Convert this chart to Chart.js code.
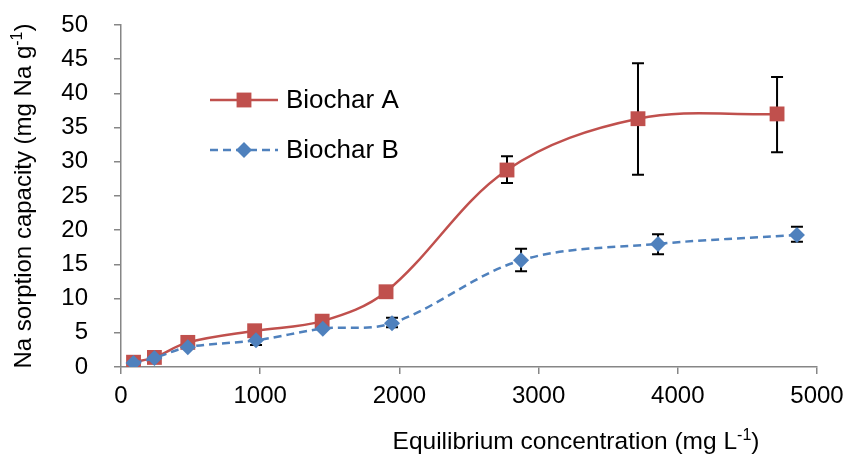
<!DOCTYPE html>
<html>
<head>
<meta charset="utf-8">
<script src="https://cdn.jsdelivr.net/npm/chart.js@4.4.0/dist/chart.umd.min.js"></script>
<style>
  html, body { margin: 0; padding: 0; background: #fff; }
  #wrap { width: 848px; height: 454px; }
</style>
</head>
<body>
<div id="wrap"><canvas id="chart"></canvas></div>
<script>
// Biochar A
var aX = [90, 240, 480, 960, 1445, 1904, 2773, 3714, 4713];
var aY = [0.7, 1.4, 3.6, 5.3, 6.7, 11.0, 28.8, 36.3, 37.0];
var aLow = [null, null, null, null, null, null, 26.9, 28.1, 31.4];
var aHigh = [null, null, null, null, null, null, 30.8, 44.4, 42.4];

// Biochar B
var bX = [90, 240, 480, 970, 1450, 1947, 2874, 3858, 4856];
var bY = [0.6, 1.3, 2.9, 3.9, 5.6, 6.4, 15.6, 18.0, 19.3];
var bLow = [null, null, null, 3.2, null, 5.8, 14.0, 16.5, 18.3];
var bHigh = [null, null, null, 4.6, null, 7.2, 17.3, 19.4, 20.5];

var seriesNames = ['Biochar A', 'Biochar B'];
var xTitle = ['Equilibrium concentration (mg L', '-1', ')'];
var yTitle = ['Na sorption capacity (mg Na g', '-1', ')'];

var red = '#C0504D';
var blue = '#4F81BD';
var axisColor = '#868686';
var font = 'Liberation Sans, Arial, sans-serif';

function pts(xs, ys) {
    return xs.map(function (x, i) { return { x: x, y: ys[i] }; });
}

// text with a superscript part in the middle, centred on 0
function drawSupText(ctx, parts, size) {
    var small = Math.round(size * 0.65);
    ctx.font = size + 'px ' + font;
    var w0 = ctx.measureText(parts[0]).width;
    var w2 = ctx.measureText(parts[2]).width;
    ctx.font = small + 'px ' + font;
    var w1 = ctx.measureText(parts[1]).width;
    var x = -(w0 + w1 + w2) / 2;
    ctx.textAlign = 'left';
    ctx.textBaseline = 'alphabetic';
    ctx.font = size + 'px ' + font;
    ctx.fillText(parts[0], x, 0);
    ctx.font = small + 'px ' + font;
    ctx.fillText(parts[1], x + w0, -size * 0.38);
    ctx.font = size + 'px ' + font;
    ctx.fillText(parts[2], x + w0 + w1, 0);
}

var errorBars = {
    id: 'errorBars',
    beforeDatasetsDraw: function (chart) {
        var ctx = chart.ctx;
        var xs = chart.scales.x, ys = chart.scales.y;
        ctx.save();
        ctx.strokeStyle = '#000';
        ctx.lineWidth = 2;
        chart.data.datasets.forEach(function (ds) {
            ds.data.forEach(function (p, i) {
                if (ds.errLow[i] == null) return;
                var px = xs.getPixelForValue(p.x);
                var top = ys.getPixelForValue(ds.errHigh[i]);
                var bot = ys.getPixelForValue(ds.errLow[i]);
                ctx.beginPath();
                ctx.moveTo(px, top); ctx.lineTo(px, bot);
                ctx.moveTo(px - 6, top); ctx.lineTo(px + 6, top);
                ctx.moveTo(px - 6, bot); ctx.lineTo(px + 6, bot);
                ctx.stroke();
            });
        });
        ctx.restore();
    }
};

var extras = {
    id: 'extras',
    afterDraw: function (chart) {
        var ctx = chart.ctx;
        ctx.save();
        ctx.fillStyle = '#000';
        // axis titles
        ctx.save();
        ctx.translate(576, 449);
        drawSupText(ctx, xTitle, 24.5);
        ctx.restore();
        ctx.save();
        ctx.translate(31, 196);
        ctx.rotate(-Math.PI / 2);
        drawSupText(ctx, yTitle, 24);
        ctx.restore();

        // legend
        var rows = [100, 150];
        chart.data.datasets.forEach(function (ds, i) {
            var y = rows[i];
            ctx.save();
            ctx.strokeStyle = ds.borderColor;
            ctx.lineWidth = ds.borderWidth;
            ctx.setLineDash(ds.borderDash || []);
            ctx.beginPath();
            ctx.moveTo(210, y); ctx.lineTo(278, y);
            ctx.stroke();
            ctx.restore();
            ctx.save();
            ctx.fillStyle = ds.pointBackgroundColor;
            ctx.strokeStyle = ds.pointBackgroundColor;
            Chart.helpers.drawPoint(ctx, { pointStyle: ds.pointStyle, radius: ds.pointRadius, borderWidth: 0 }, 244, y);
            ctx.restore();
            ctx.fillStyle = '#000';
            ctx.font = '26px ' + font;
            ctx.textAlign = 'left';
            ctx.textBaseline = 'middle';
            ctx.fillText(seriesNames[i], 286, y + 1);
        });
        ctx.restore();
    }
};

var tickFont = { family: font, size: 24 };

new Chart(document.getElementById('chart'), {
    type: 'line',
    data: {
        datasets: [{
            label: seriesNames[0],
            data: pts(aX, aY),
            errLow: aLow,
            errHigh: aHigh,
            borderColor: red,
            borderWidth: 2.5,
            pointStyle: 'rect',
            pointRadius: 10.5,
            pointBackgroundColor: red,
            pointBorderColor: red,
            pointBorderWidth: 0,
            tension: 0.35,
            order: 1
        }, {
            label: seriesNames[1],
            data: pts(bX, bY),
            errLow: bLow,
            errHigh: bHigh,
            borderColor: blue,
            borderWidth: 2.5,
            borderDash: [8, 5],
            pointStyle: 'rectRot',
            pointRadius: 8,
            pointBackgroundColor: blue,
            pointBorderColor: blue,
            pointBorderWidth: 0,
            tension: 0.35,
            order: 0
        }]
    },
    options: {
        responsive: true,
        maintainAspectRatio: false,
        animation: false,
        events: [],
        layout: { padding: { left: 0, top: 25, right: 31, bottom: 0 } },
        plugins: {
            legend: { display: false },
            tooltip: { enabled: false }
        },
        scales: {
            x: {
                type: 'linear',
                min: 0,
                max: 5000,
                ticks: {
                    stepSize: 1000, font: tickFont, color: '#000', padding: 8, maxRotation: 0,
                    callback: function (v) { return String(v); }
                },
                grid: { drawOnChartArea: false, drawTicks: true, tickLength: 7, color: axisColor, lineWidth: 1.5 },
                border: { color: axisColor, width: 1.5 },
                afterFit: function (s) { s.height = 87; s.paddingLeft = 0; s.paddingRight = 0; }
            },
            y: {
                min: 0,
                max: 50,
                ticks: { stepSize: 5, font: tickFont, color: '#000', padding: 26 },
                grid: { drawOnChartArea: false, drawTicks: true, tickLength: 7, color: axisColor, lineWidth: 1.5 },
                border: { color: axisColor, width: 1.5 },
                afterFit: function (s) { s.width = 121; s.paddingTop = 0; s.paddingBottom = 0; }
            }
        }
    },
    plugins: [errorBars, extras]
});
</script>
</body>
</html>
